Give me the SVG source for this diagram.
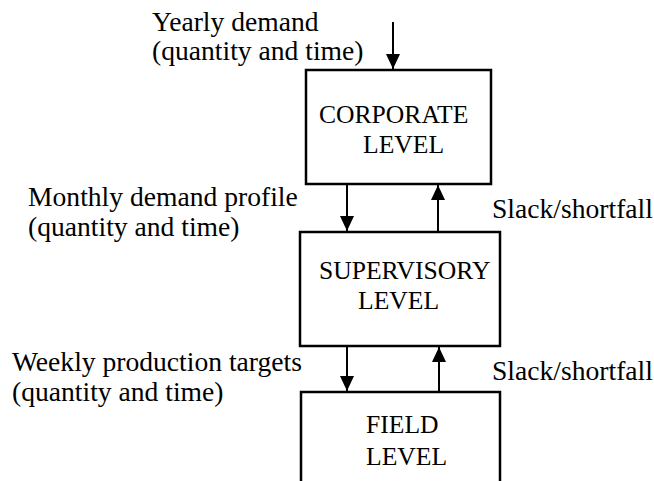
<svg xmlns="http://www.w3.org/2000/svg" width="654" height="481" viewBox="0 0 654 481">
<style>
.box{fill:#fff;stroke:#000;stroke-width:2.5}
.lbl{font-family:"Liberation Serif","DejaVu Serif",serif;font-size:27.6px;fill:#000}
.nt{font-family:"Liberation Serif","DejaVu Serif",serif;font-size:25.6px;fill:#000}
.con{stroke:#000;stroke-width:2;fill:none;marker-end:url(#ah)}
</style>
<defs>
<marker id="ah" markerUnits="userSpaceOnUse" markerWidth="15" markerHeight="15" refX="15" refY="7" orient="auto">
<path d="M0,0 L15,7 L0,14 Z" fill="#000"/>
</marker>
</defs>
<rect width="654" height="481" fill="#fff"/>
<g id="connectors">
<line class="con" x1="393" y1="22" x2="393" y2="69"/>
<line class="con" x1="347" y1="185" x2="347" y2="231"/>
<line class="con" x1="438" y1="231" x2="438" y2="185"/>
<line class="con" x1="347" y1="347" x2="347" y2="391"/>
<line class="con" x1="439" y1="391" x2="439" y2="347"/>
</g>
<g id="corporate">
<rect class="box" x="306" y="70" width="185" height="114"/>
<text class="nt" x="319" y="123">CORPORATE</text>
<text class="nt" x="363" y="153">LEVEL</text>
</g>
<g id="supervisory">
<rect class="box" x="300" y="232" width="200" height="114"/>
<text class="nt" x="319" y="279">SUPERVISORY</text>
<text class="nt" x="358" y="309">LEVEL</text>
</g>
<g id="field">
<rect class="box" x="301" y="392" width="199" height="100"/>
<text class="nt" x="366" y="433">FIELD</text>
<text class="nt" x="366" y="465">LEVEL</text>
</g>
<g id="labels">
<text class="lbl" x="152" y="31">Yearly demand</text>
<text class="lbl" x="152" y="60">(quantity and time)</text>
<text class="lbl" x="28" y="206">Monthly demand profile</text>
<text class="lbl" x="28" y="236">(quantity and time)</text>
<text class="lbl" x="492" y="218">Slack/shortfall</text>
<text class="lbl" x="12" y="371">Weekly production targets</text>
<text class="lbl" x="12" y="401">(quantity and time)</text>
<text class="lbl" x="492" y="380">Slack/shortfall</text>
</g>
</svg>
